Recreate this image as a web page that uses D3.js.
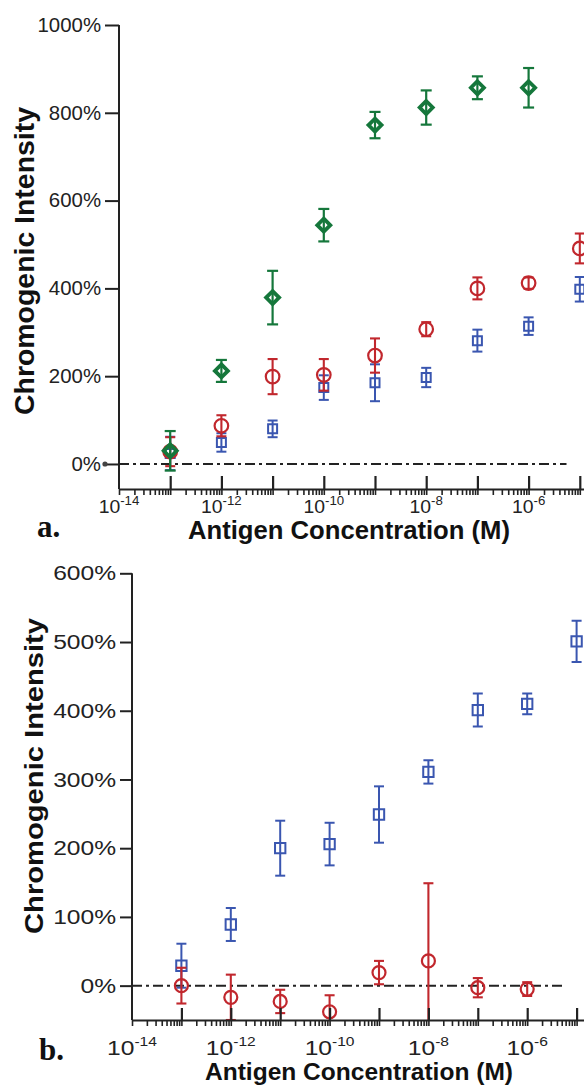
<!DOCTYPE html>
<html>
<head>
<meta charset="utf-8">
<script src="https://cdn.jsdelivr.net/npm/d3@7"></script>
<style>
  body { margin: 0; background: #fff; }
  svg { display: block; font-family: "Liberation Sans", Arial, Helvetica, sans-serif; }
</style>
</head>
<body>
<svg id="chart" width="584" height="1085"></svg>
<script>
// Antigen concentrations (M), one per measured point
const concentrations = [1e-13, 1e-12, 1e-11, 1e-10, 1e-9, 1e-8, 1e-7, 1e-6, 1e-5];
// Exponents that get a "10^n" label under the x axis
const labelExponents = [-14, -12, -10, -8, -6];

// Panel a: three series (percent chromogenic intensity and error)
const yTicksA = [0, 200, 400, 600, 800, 1000];
const greenA = [30, 212, 379, 544, 772, 812, 857, 857, null];
const greenAErr = [45, 25, 61, 37, 30, 39, 26, 45, null];
const redA = [28, 87, 199, 203, 247, 307, 400, 412, 491];
const redAErr = [33, 24, 40, 36, 39, 16, 25, 13, 34];
const blueA = [24, 49, 80, 174, 185, 197, 281, 314, 398];
const blueAErr = [38, 21, 19, 28, 42, 22, 25, 20, 28];

// Panel b: two series
const yTicksB = [0, 100, 200, 300, 400, 500, 600];
const blueB = [29, 89, 200, 206, 249, 311, 401, 410, 501];
const blueBErr = [32, 24, 40, 31, 41, 17, 24, 15, 30];
const redB = [0, -17, -23, -38, 19, 36, -3, -5, null];
const redBErr = [26, 33, 17, 24, 17, 113, 14, 10, null];

const GREEN = '#15773b', RED = '#c1272d', BLUE = '#3a56b0', INK = '#222';

const svg = d3.select('#chart');

// Marker shapes, centred on (0,0)
const shapes = {
    diamond: 'M0,-6.5L6.5,0L0,6.5L-6.5,0Z',
    square: 'M-4.5,-4.5H4.5V4.5H-4.5Z'
};

function drawPanel(p, id) {
    const g = svg.append('g');

    // Log x scale, extended a little past 1e-5 so the axis runs to the edge
    const xEnd = 2e-5;
    const x = d3.scaleLog()
        .domain([1e-14, xEnd])
        .range([p.left, p.left + p.decade * (Math.log10(xEnd) + 14)]);

    const y = d3.scaleLinear()
        .domain(p.yDomain)
        .range([p.axisY, p.top]);

    // Clip marks to the plot area
    g.append('clipPath').attr('id', 'clip' + id)
        .append('rect')
        .attr('x', p.left).attr('y', p.top - 30)
        .attr('width', 584 - p.left).attr('height', p.axisY - p.top + 30);

    // Dash-dot reference line at 0%
    g.append('line')
        .attr('x1', p.left).attr('x2', x(p.zeroEnd))
        .attr('y1', y(0)).attr('y2', y(0))
        .attr('stroke', INK).attr('stroke-width', 2)
        .attr('stroke-dasharray', '10,4,3,4');

    // Series: error bars then hollow markers
    const plot = g.append('g').attr('clip-path', `url(#clip${id})`);
    p.series.forEach(s => {
        const pts = concentrations
            .map((c, i) => ({ c, v: s.values[i], e: s.errors[i] }))
            .filter(d => d.v != null);

        const eg = plot.append('g').attr('stroke', s.color).attr('stroke-width', s.bar);
        eg.selectAll('.bar').data(pts).enter().append('line')
            .attr('x1', d => x(d.c)).attr('x2', d => x(d.c))
            .attr('y1', d => y(d.v - d.e)).attr('y2', d => y(d.v + d.e));
        eg.selectAll('.capTop').data(pts).enter().append('line')
            .attr('x1', d => x(d.c) - s.cap).attr('x2', d => x(d.c) + s.cap)
            .attr('y1', d => y(d.v + d.e)).attr('y2', d => y(d.v + d.e));
        eg.selectAll('.capBot').data(pts).enter().append('line')
            .attr('x1', d => x(d.c) - s.cap).attr('x2', d => x(d.c) + s.cap)
            .attr('y1', d => y(d.v - d.e)).attr('y2', d => y(d.v - d.e));

        if (s.shape === 'circle') {
            plot.selectAll(null).data(pts).enter().append('circle')
                .attr('cx', d => x(d.c)).attr('cy', d => y(d.v))
                .attr('r', s.size)
                .attr('fill', 'none').attr('stroke', s.color).attr('stroke-width', s.stroke);
        } else {
            plot.selectAll(null).data(pts).enter().append('path')
                .attr('d', shapes[s.shape])
                .attr('transform', d => `translate(${x(d.c)},${y(d.v)}) scale(${s.size})`)
                .attr('fill', 'none').attr('stroke', s.color)
                .attr('stroke-width', s.stroke / s.size);
        }
    });

    // Y axis
    const yAxis = g.append('g')
        .attr('transform', `translate(${p.left},0)`)
        .call(d3.axisLeft(y)
            .tickValues(p.yTicks)
            .tickSize(p.yTickSize)
            .tickSizeOuter(0)
            .tickPadding(4)
            .tickFormat(d => d + '%'));
    yAxis.select('.domain').attr('stroke', INK).attr('stroke-width', 2)
        .attr('d', `M0,${p.axisY}V${y(p.yTicks[p.yTicks.length - 1])}`);
    yAxis.selectAll('.tick line').attr('stroke', INK).attr('stroke-width', 2);
    yAxis.selectAll('.tick text')
        .attr('fill', INK)
        .attr('font-size', p.yFont)
        .attr('x', -(p.yTickSize + 4) / p.sx)
        .attr('transform', `scale(${p.sx},1)`);
    if (p.zeroDot) {
        g.append('circle').attr('cx', p.left - p.yTickSize).attr('cy', y(0))
            .attr('r', 2.6).attr('fill', '#444');
    }

    // X axis: minor ticks below, major ticks above at each decade
    const minor = d3.range(-14, -4)
        .flatMap(k => d3.range(1, 10).map(m => m * Math.pow(10, k)))
        .filter(v => v <= xEnd);
    const xMinor = g.append('g')
        .attr('transform', `translate(0,${p.axisY})`)
        .call(d3.axisBottom(x).tickValues(minor).tickSize(6).tickSizeOuter(0).tickFormat(''));
    xMinor.select('.domain').attr('stroke', INK).attr('stroke-width', 2.2);
    xMinor.selectAll('.tick line').attr('stroke', INK).attr('stroke-width', 1.6);

    const xMajor = g.append('g')
        .attr('transform', `translate(0,${p.axisY})`)
        .call(d3.axisTop(x).tickValues(concentrations).tickSize(p.majorTick).tickFormat(''));
    xMajor.select('.domain').remove();
    xMajor.selectAll('.tick line').attr('stroke', INK).attr('stroke-width', 2.2);

    // Decade labels with superscript exponents
    labelExponents.forEach(e => {
        const t = g.append('text')
            .attr('transform', `translate(${x(Math.pow(10, e))},${p.xLabelY}) scale(${p.sx},1)`)
            .attr('text-anchor', 'middle')
            .attr('fill', INK)
            .attr('font-size', p.xFont);
        t.append('tspan').text('10');
        t.append('tspan').attr('dy', p.supShift).attr('font-size', p.supFont).text(String(e));
    });

    // Axis titles
    g.append('text')
        .attr('transform', `translate(${p.yTitle[0]},${p.yTitle[1]}) rotate(-90)`)
        .attr('text-anchor', 'middle')
        .attr('font-weight', 'bold')
        .attr('font-size', p.yTitle[2])
        .attr('textLength', p.yTitle[3])
        .attr('lengthAdjust', 'spacingAndGlyphs')
        .attr('fill', '#111')
        .text('Chromogenic Intensity');

    g.append('text')
        .attr('x', p.xTitle[0]).attr('y', p.xTitle[1])
        .attr('text-anchor', 'middle')
        .attr('font-weight', 'bold')
        .attr('font-size', p.xTitle[2])
        .attr('textLength', p.xTitle[3])
        .attr('lengthAdjust', 'spacingAndGlyphs')
        .attr('fill', '#111')
        .text('Antigen Concentration (M)');

    // Panel letter
    g.append('text')
        .attr('x', p.letter[0]).attr('y', p.letter[1])
        .attr('font-family', '"Liberation Serif", "Times New Roman", serif')
        .attr('font-weight', 'bold')
        .attr('font-size', 31)
        .attr('fill', '#111')
        .text(p.letter[2]);
}

drawPanel({
    left: 119, top: 25, axisY: 489, decade: 51.2,
    yDomain: [-57, 1000], yTicks: yTicksA, yTickSize: 14, yFont: 20, sx: 1.02,
    zeroEnd: 5.5e-6, zeroDot: true, majorTick: 13,
    xLabelY: 513, xFont: 19, supFont: 13, supShift: -8,
    yTitle: [34, 261, 28, 308], xTitle: [349, 539, 25, 322], letter: [37, 537, 'a.'],
    series: [
        { values: blueA, errors: blueAErr, color: BLUE, shape: 'square', size: 1, stroke: 2, bar: 2, cap: 5 },
        { values: redA, errors: redAErr, color: RED, shape: 'circle', size: 6.8, stroke: 2.2, bar: 2.1, cap: 5 },
        { values: greenA, errors: greenAErr, color: GREEN, shape: 'diamond', size: 1, stroke: 3.8, bar: 2.2, cap: 5.5 }
    ]
}, 'a');

drawPanel({
    left: 132, top: 573.3, axisY: 1020, decade: 49.4,
    yDomain: [-50, 600], yTicks: yTicksB, yTickSize: 12, yFont: 20.5, sx: 1.2,
    zeroEnd: 5.5e-6, zeroDot: false, majorTick: 12,
    xLabelY: 1055, xFont: 20.5, supFont: 13, supShift: -9,
    yTitle: [43, 776, 25, 316], xTitle: [359, 1080, 24, 308], letter: [39, 1060, 'b.'],
    series: [
        { values: blueB, errors: blueBErr, color: BLUE, shape: 'square', size: 1.15, stroke: 2, bar: 2, cap: 5 },
        { values: redB, errors: redBErr, color: RED, shape: 'circle', size: 6.5, stroke: 2.2, bar: 2.1, cap: 5 }
    ]
}, 'b');
</script>
</body>
</html>
